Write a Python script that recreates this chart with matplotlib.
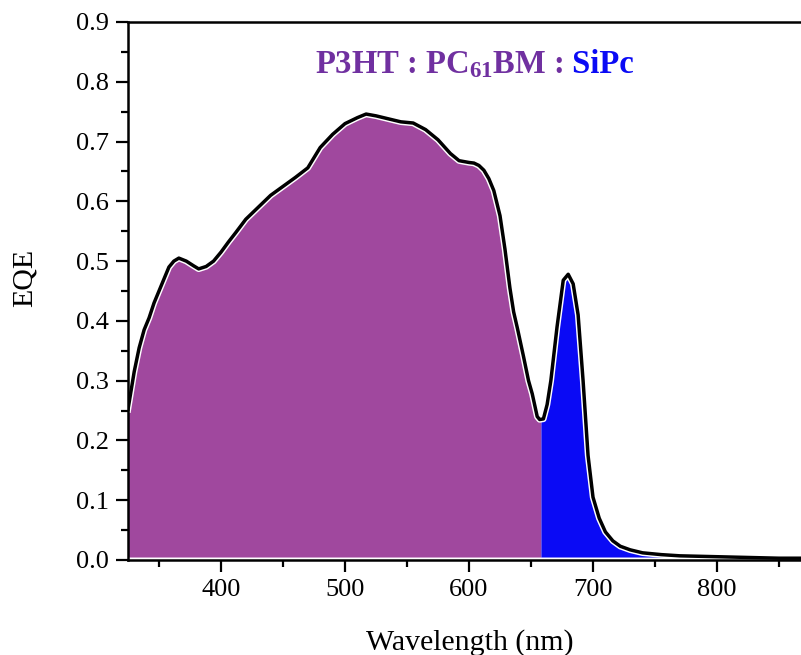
import matplotlib
matplotlib.use("Agg")
import matplotlib.pyplot as plt
import numpy as np

# EQE spectrum
wavelength = [325, 330, 334, 338, 342, 346, 350, 354, 358, 362, 366, 372, 378,
              382, 388, 394, 400, 406, 412, 420, 430, 440, 450, 460, 470, 480,
              490, 500, 510, 517, 525, 535, 545, 555, 565, 575, 585, 592, 600,
              604, 608, 612, 616, 620, 625, 629, 633, 636, 639, 644, 648, 651,
              655, 657, 660, 663, 666, 671, 676, 680, 684, 688, 692, 696, 700,
              705, 710, 716, 722, 730, 740, 755, 770, 790, 810, 830, 850, 870,
              900]
eqe = [0.252, 0.315, 0.355, 0.385, 0.405, 0.43, 0.45, 0.47, 0.49, 0.50, 0.505,
       0.50, 0.492, 0.487, 0.491, 0.50, 0.515, 0.532, 0.548, 0.57, 0.59, 0.61,
       0.625, 0.64, 0.656, 0.69, 0.712, 0.73, 0.74, 0.746, 0.743, 0.738, 0.733,
       0.731, 0.72, 0.703, 0.68, 0.668, 0.665, 0.664, 0.66, 0.652, 0.638, 0.618,
       0.576, 0.52, 0.455, 0.415, 0.388, 0.34, 0.30, 0.278, 0.24, 0.235, 0.236,
       0.26, 0.30, 0.39, 0.468, 0.478, 0.462, 0.41, 0.30, 0.175, 0.105, 0.07,
       0.047, 0.032, 0.023, 0.017, 0.012, 0.009, 0.007, 0.006, 0.005, 0.004,
       0.003, 0.003, 0.003]
split_wl = 658  # where the SiPc (blue) region starts

x_ticks = [400, 500, 600, 700, 800]
y_ticks = [0.0, 0.1, 0.2, 0.3, 0.4, 0.5, 0.6, 0.7, 0.8, 0.9]

purple_fill = "#A0489E"
blue_fill = "#0A0AF5"
purple_text = "#7030A0"
blue_text = "#0A0AF5"

plt.rcParams['font.family'] = ['Liberation Serif', 'DejaVu Serif']
plt.rcParams['mathtext.fontset'] = 'custom'
plt.rcParams['mathtext.rm'] = 'Liberation Serif:bold'
plt.rcParams['mathtext.bf'] = 'Liberation Serif:bold'
plt.rcParams['mathtext.it'] = 'Liberation Serif:bold'

wl = np.array(wavelength)
y = np.array(eqe)

fig = plt.figure(figsize=(8.01, 6.55), dpi=100)
# axes run past the right edge of the picture, as in the reference
ax = fig.add_axes([128 / 801, 95 / 655, 713 / 801, 538 / 655])

# split the curve at the SiPc boundary (interpolate the boundary point)
y_split = np.interp(split_wl, wl, y)
wl_l = np.append(wl[wl < split_wl], split_wl)
y_l = np.append(y[wl < split_wl], y_split)
wl_r = np.insert(wl[wl > split_wl], 0, split_wl)
y_r = np.insert(y[wl > split_wl], 0, y_split)

base = 0.005
ax.fill_between(wl_l, base, y_l, color=purple_fill, lw=0)
ax.fill_between(wl_r, base, y_r, where=y_r > base,
                color=blue_fill, lw=0, interpolate=True)
ax.plot(wl, y, color="white", lw=4.6, solid_joinstyle="round")
ax.plot(wl, y, color="black", lw=2.5, solid_joinstyle="round")

ax.set_xlim(325, 900)
ax.set_ylim(0, 0.9)
ax.set_xticks(x_ticks)
ax.set_xticks(np.arange(350, 900, 100), minor=True)
ax.set_yticks(y_ticks)
ax.set_yticks(np.arange(0.05, 0.9, 0.1), minor=True)
ax.set_yticklabels([f"{v:.1f}" for v in y_ticks])

for s in ax.spines.values():
    s.set_linewidth(1.8)
ax.tick_params(which='major', direction='out', length=8.5, width=1.6,
               labelsize=19, pad=5, top=False, right=False)
ax.tick_params(which='minor', direction='out', length=5, width=1.6,
               top=False, right=False)

ax.set_xlabel("Wavelength (nm)", fontsize=21.5)
ax.xaxis.set_label_coords(0.479, -0.128)
ax.set_ylabel("EQE", fontsize=21.5)
ax.yaxis.set_label_coords(-0.127, 0.525)

# two-colour title
x_start = 315
baseline = 655 - 73
t1 = ax.text(x_start / 801, baseline / 655, "P3HT : PC$_{61}$BM :",
             fontsize=23.5, fontweight='bold', color=purple_text,
             transform=fig.transFigure, va='baseline')
fig.canvas.draw()
bb = t1.get_window_extent()
ax.text(bb.x1 / 801, baseline / 655, " SiPc", fontsize=23.5, fontweight='bold',
        color=blue_text, transform=fig.transFigure, va='baseline')

fig.savefig("out.png", dpi=100)
